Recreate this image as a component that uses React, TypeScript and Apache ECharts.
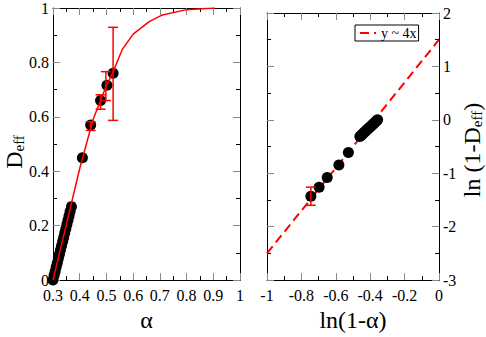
import React, { useEffect, useRef } from 'react';
import * as echarts from 'echarts';

const SERIF = '"Liberation Serif", "Times New Roman", "DejaVu Serif", serif';

// Left panel: D_eff vs alpha
const leftAlpha = [0.300, 0.304, 0.308, 0.312, 0.316, 0.320, 0.324, 0.328, 0.332, 0.336, 0.340, 0.344, 0.348, 0.352, 0.356, 0.360, 0.364, 0.369, 0.410, 0.441, 0.478, 0.502, 0.525];
const leftD = [0.000, 0.017, 0.032, 0.048, 0.063, 0.079, 0.095, 0.111, 0.126, 0.142, 0.157, 0.173, 0.189, 0.204, 0.220, 0.236, 0.252, 0.270, 0.450, 0.570, 0.660, 0.716, 0.760];

const curveAlpha = [0.30, 0.35, 0.40, 0.45, 0.50, 0.525, 0.56, 0.60, 0.66, 0.706, 0.80, 0.906];
const curveD = [0.0, 0.205, 0.41, 0.59, 0.715, 0.765, 0.849, 0.904, 0.950, 0.973, 0.994, 1.0];

const leftErrX = [0.441, 0.478, 0.498, 0.525];
const leftErrLo = [0.550, 0.628, 0.660, 0.587];
const leftErrHi = [0.582, 0.681, 0.766, 0.929];

// Right panel: ln(1-D_eff) vs ln(1-alpha)
const rightX = [-0.357, -0.363, -0.369, -0.375, -0.381, -0.387, -0.393, -0.399, -0.405, -0.411, -0.417, -0.423, -0.429, -0.435, -0.441, -0.447, -0.453, -0.460, -0.527, -0.582, -0.650, -0.697, -0.745];
const rightY = [0.000, -0.018, -0.036, -0.055, -0.073, -0.091, -0.109, -0.128, -0.146, -0.164, -0.182, -0.200, -0.219, -0.237, -0.255, -0.273, -0.292, -0.313, -0.610, -0.845, -1.080, -1.260, -1.430];

const fitX = [-1, 0];
const fitY = [-2.5, 1.5];
const fitName = 'y ~ 4x';

const rightErrX = [-0.745];
const rightErrLo = [-1.60];
const rightErrHi = [-1.26];

// Tick settings
const leftXTicks = { min: 0.3, max: 1, interval: 0.1 };
const leftYTicks = { min: 0, max: 1, interval: 0.2 };
const rightXTicks = { min: -1, max: 0, interval: 0.2 };
const rightYTicks = { min: -3, max: 2, interval: 1 };

function axis(gridIndex: number, t: any, position: string, showLabels: boolean, labelMargin: number, extra: any = {}, labelExtra: any = {}) {
  return {
    type: 'value',
    gridIndex,
    position,
    min: t.min,
    max: t.max,
    interval: t.interval,
    axisLine: { show: true, onZero: false, lineStyle: { color: '#000', width: 1 } },
    axisTick: { show: true, inside: true, length: 7, lineStyle: { color: '#888', width: 1 } },
    minorTick: { show: true, splitNumber: 2, length: 4, lineStyle: { color: '#000', width: 1 } },
    splitLine: { show: false },
    minorSplitLine: { show: false },
    axisLabel: { show: showLabels, fontFamily: SERIF, fontSize: 16, color: '#000', margin: labelMargin, ...labelExtra },
    ...extra,
  };
}

function errRender(params: any, api: any) {
  const x = api.value(0);
  const p1 = api.coord([x, api.value(1)]);
  const p2 = api.coord([x, api.value(2)]);
  const w = 5;
  const st = { stroke: '#ff0000', lineWidth: 1.5 };
  return {
    type: 'group',
    children: [
      { type: 'line', shape: { x1: p1[0], y1: p1[1], x2: p2[0], y2: p2[1] }, style: st },
      { type: 'line', shape: { x1: p1[0] - w, y1: p1[1], x2: p1[0] + w, y2: p1[1] }, style: st },
      { type: 'line', shape: { x1: p2[0] - w, y1: p2[1], x2: p2[0] + w, y2: p2[1] }, style: st },
    ],
  };
}

export default function App() {
  const ref = useRef<HTMLDivElement>(null);
  useEffect(() => {
    const chart = echarts.init(ref.current!, null, { renderer: 'svg' });
    const nameStyle = { fontFamily: SERIF, fontSize: 24, color: '#000' };
    const option: any = {
      animation: false,
      textStyle: { fontFamily: SERIF },
      grid: [
        { left: 53, top: 7, width: 187, height: 288 },
        { left: 267, top: 13, width: 172, height: 282 },
      ],
      legend: {
        data: [fitName],
        left: 355,
        top: 25,
        borderColor: '#000',
        borderWidth: 1,
        borderRadius: 0,
        padding: [1, 2, 1, 4],
        itemWidth: 16,
        itemHeight: 10,
        itemStyle: { color: 'rgba(0,0,0,0)', borderWidth: 0, opacity: 0 },
        lineStyle: { color: '#ff0000', width: 2, type: [9, 5] },
        textStyle: { fontFamily: SERIF, fontSize: 14, color: '#000' },
      },
      xAxis: [
        axis(0, leftXTicks, 'bottom', true, 7, { name: 'α', nameLocation: 'middle', nameGap: 22, nameTextStyle: nameStyle }),
        axis(0, leftXTicks, 'top', false, 5),
        axis(1, rightXTicks, 'bottom', true, 7, { name: 'ln(1-α)', nameLocation: 'middle', nameGap: 14, nameTextStyle: nameStyle }),
        axis(1, rightXTicks, 'top', false, 5),
      ],
      yAxis: [
        axis(0, leftYTicks, 'left', true, 4, {}, { lineHeight: 12 }),
        axis(0, leftYTicks, 'right', false, 4),
        axis(1, rightYTicks, 'right', true, 4, {}, { lineHeight: 12 }),
        axis(1, rightYTicks, 'left', false, 4),
      ],
      graphic: [
        {
          type: 'text',
          x: 14,
          y: 152,
          rotation: Math.PI / 2,
          style: {
            text: '{a|D}{b|eff}',
            align: 'center',
            verticalAlign: 'middle',
            rich: {
              a: { fontFamily: SERIF, fontSize: 24, lineHeight: 24, verticalAlign: 'top', fill: '#000' },
              b: { fontFamily: SERIF, fontSize: 15, lineHeight: 15, padding: [12, 0, 0, 0], verticalAlign: 'bottom', fill: '#000' },
            },
          },
        },
        {
          type: 'text',
          x: 472,
          y: 150,
          rotation: Math.PI / 2,
          style: {
            text: '{a|ln (1-D}{b|eff}{a|)}',
            align: 'center',
            verticalAlign: 'middle',
            rich: {
              a: { fontFamily: SERIF, fontSize: 24, lineHeight: 24, verticalAlign: 'top', fill: '#000' },
              b: { fontFamily: SERIF, fontSize: 15, lineHeight: 15, padding: [12, 0, 0, 0], verticalAlign: 'bottom', fill: '#000' },
            },
          },
        },
      ],
      series: [
        {
          type: 'scatter',
          xAxisIndex: 0,
          yAxisIndex: 0,
          data: leftAlpha.map((a, i) => [a, leftD[i]]),
          symbolSize: 11,
          itemStyle: { color: '#000', opacity: 1 },
          z: 2,
        },
        {
          type: 'line',
          xAxisIndex: 0,
          yAxisIndex: 0,
          data: curveAlpha.map((a, i) => [a, curveD[i]]),
          symbol: 'none',
          lineStyle: { color: '#ff0000', width: 1.5 },
          z: 3,
        },
        {
          type: 'custom',
          xAxisIndex: 0,
          yAxisIndex: 0,
          data: leftErrX.map((x, i) => [x, leftErrLo[i], leftErrHi[i]]),
          encode: { x: 0, y: [1, 2] },
          renderItem: errRender,
          z: 4,
        },
        {
          name: fitName,
          type: 'line',
          xAxisIndex: 2,
          yAxisIndex: 2,
          data: fitX.map((x, i) => [x, fitY[i]]),
          symbol: 'none',
          color: '#ff0000',
          lineStyle: { color: '#ff0000', width: 2, type: [9, 5] },
          z: 2,
        },
        {
          type: 'scatter',
          xAxisIndex: 2,
          yAxisIndex: 2,
          data: rightX.map((x, i) => [x, rightY[i]]),
          symbolSize: 11,
          itemStyle: { color: '#000', opacity: 1 },
          z: 3,
        },
        {
          type: 'custom',
          xAxisIndex: 2,
          yAxisIndex: 2,
          data: rightErrX.map((x, i) => [x, rightErrLo[i], rightErrHi[i]]),
          encode: { x: 0, y: [1, 2] },
          renderItem: errRender,
          z: 4,
        },
      ],
    };
    chart.setOption(option);
    return () => chart.dispose();
  }, []);
  return <div ref={ref} style={{ position: 'absolute', left: 0, top: 0, width: 486, height: 337 }} />;
}
